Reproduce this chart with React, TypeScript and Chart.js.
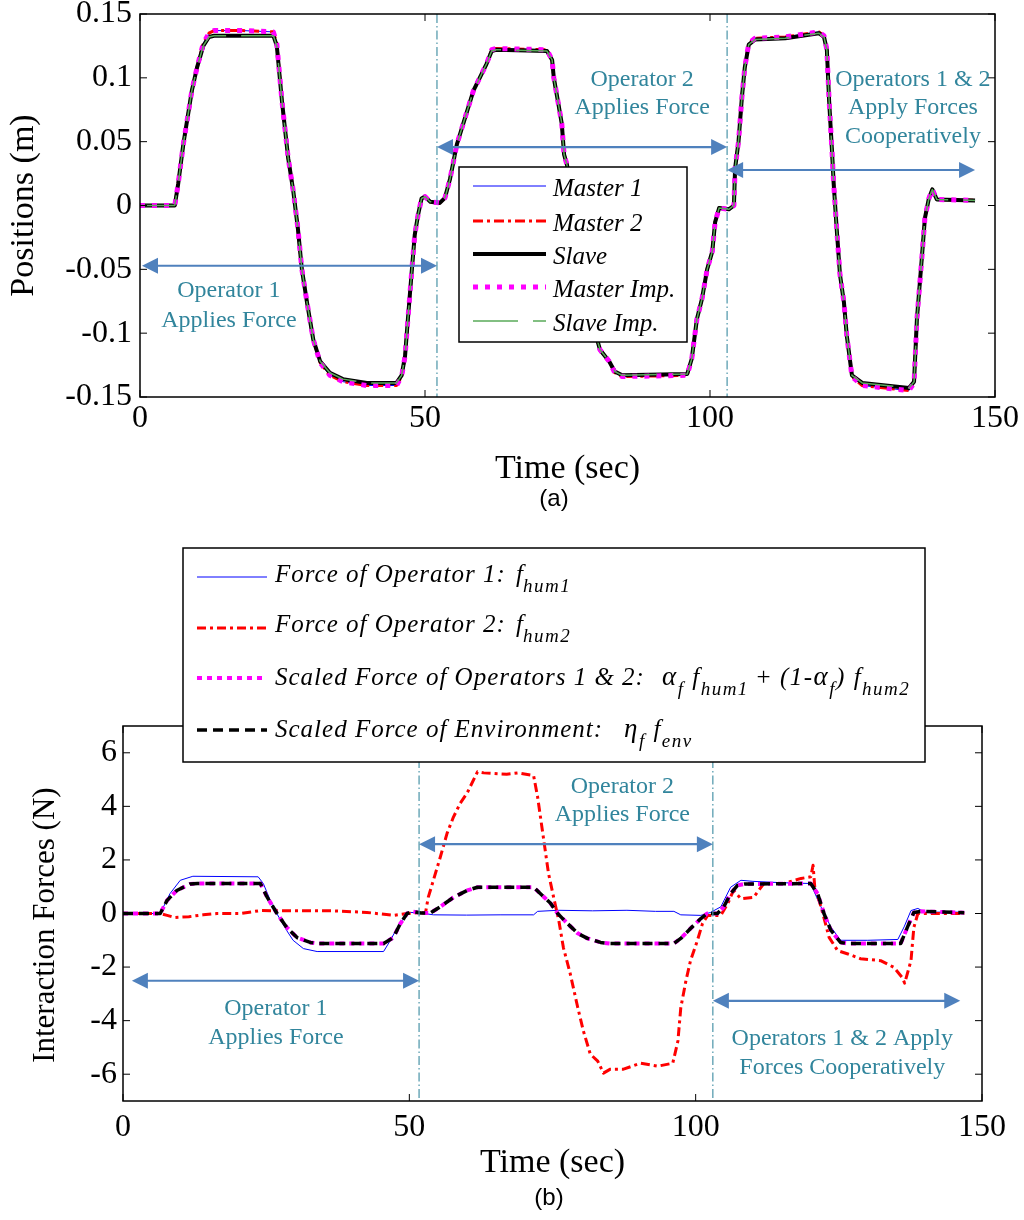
import React, { useEffect, useRef } from 'react';
import { Chart, registerables } from 'chart.js';

Chart.register(...registerables);

const SERIF = '"Liberation Serif", "Times New Roman", Times, serif';
const SANS = '"Liberation Sans", Arial, sans-serif';
const TEAL = '#31859C';
const ARROW = '#4F81BD';
const PHASE = '#4A94A8';

// ---------------- (a) Positions ----------------
const posTime = [0, 6.1, 6.7, 7.6, 9.1, 10, 11.1, 12.1, 13, 18, 23.4, 24, 24.9, 26, 26.9, 27.7, 28.4, 29.3, 30.4, 31.6, 33.3, 35.6, 39.8, 45, 45.9, 46.5, 47, 47.7, 48.2, 48.8, 49.4, 50, 50.9, 52.6, 53.5, 54.4, 55.6, 56.7, 58.5, 59.6, 60.8, 61.7, 62.5, 71.4, 72.3, 72.6, 73.5, 74, 74.4, 74.9, 76, 77.5, 79, 80.2, 80.7, 82.3, 83.3, 84.6, 96, 96.8, 97.7, 98.6, 99.5, 100.4, 100.9, 101.6, 103.3, 104.2, 104.4, 105, 105.6, 106.1, 106.8, 107.9, 113.2, 119.1, 120, 120.5, 120.9, 121.4, 121.7, 122.3, 122.8, 123.5, 124, 124.9, 126.7, 134.9, 135.8, 136.3, 137.2, 137.7, 138.4, 139, 139.8, 146.5];
const posMaster = [0, 0, 0.017, 0.048, 0.09, 0.108, 0.127, 0.135, 0.137, 0.137, 0.136, 0.127, 0.082, 0.037, 0.011, -0.018, -0.05, -0.076, -0.105, -0.123, -0.133, -0.138, -0.141, -0.141, -0.134, -0.118, -0.089, -0.05, -0.023, -0.007, 0.0055, 0.007, 0.003, 0.002, 0.006, 0.021, 0.048, 0.064, 0.09, 0.1, 0.111, 0.122, 0.123, 0.122, 0.114, 0.1, 0.077, 0.064, 0.04, 0.032, 0.005, -0.04, -0.08, -0.105, -0.113, -0.122, -0.131, -0.134, -0.133, -0.12, -0.089, -0.073, -0.05, -0.036, -0.013, -0.002, -0.003, 0, 0.029, 0.05, 0.085, 0.108, 0.127, 0.131, 0.132, 0.136, 0.133, 0.122, 0.082, 0.043, 0.017, -0.023, -0.054, -0.076, -0.102, -0.134, -0.141, -0.145, -0.139, -0.089, -0.039, -0.01, 0.0055, 0.0126, 0.0047, 0.004];
const posSlave = [0, 0, 0.017, 0.048, 0.09, 0.108, 0.125, 0.132, 0.133, 0.133, 0.133, 0.125, 0.082, 0.037, 0.011, -0.018, -0.05, -0.076, -0.105, -0.122, -0.131, -0.136, -0.139, -0.139, -0.133, -0.118, -0.089, -0.05, -0.023, -0.007, 0.0055, 0.007, 0.003, 0.002, 0.006, 0.021, 0.048, 0.064, 0.09, 0.1, 0.111, 0.121, 0.122, 0.121, 0.114, 0.1, 0.077, 0.064, 0.04, 0.032, 0.005, -0.04, -0.08, -0.105, -0.113, -0.122, -0.13, -0.133, -0.132, -0.12, -0.089, -0.073, -0.05, -0.036, -0.013, -0.002, -0.003, 0, 0.029, 0.05, 0.085, 0.108, 0.126, 0.13, 0.131, 0.135, 0.132, 0.122, 0.082, 0.043, 0.017, -0.023, -0.054, -0.076, -0.102, -0.133, -0.139, -0.143, -0.138, -0.089, -0.039, -0.01, 0.0055, 0.0126, 0.0047, 0.004];
const posXTickValues = [0, 50, 100, 150];
const posXTickLabels = ['0', '50', '100', '150'];
const posYTickValues = [-0.15, -0.1, -0.05, 0, 0.05, 0.1, 0.15];
const posYTickLabels = ['-0.15', '-0.1', '-0.05', '0', '0.05', '0.1', '0.15'];
const posSeriesNames = ['Master 1', 'Master 2', 'Slave', 'Master Imp.', 'Slave Imp.'];
const posPhaseBounds = [52.1, 103];

// ---------------- (b) Interaction forces ----------------
const hum1Time = [0, 6.5, 8.2, 10, 12.2, 23.6, 24.5, 26.2, 28.6, 29.7, 31.5, 33.9, 45.5, 46.7, 48.4, 50.2, 52, 54.2, 60, 66, 71.7, 72.4, 76, 82, 88, 93, 96.2, 97.4, 100.9, 102.6, 104.4, 106.1, 107.9, 110, 115, 120, 120.6, 121.9, 123.6, 125.3, 130, 135.3, 136.4, 137.6, 138.8, 140, 146.9];
const hum1Force = [0, 0, 0.74, 1.24, 1.39, 1.37, 1.12, 0.24, -0.64, -1.0, -1.31, -1.42, -1.42, -1.0, -0.33, 0.04, 0.02, -0.05, -0.06, -0.05, -0.05, 0.08, 0.12, 0.1, 0.12, 0.08, 0.08, -0.05, -0.07, 0.04, 0.25, 0.98, 1.24, 1.2, 1.15, 1.12, 0.86, 0.24, -0.5, -1.0, -1.0, -0.97, -0.5, 0.11, 0.19, 0.05, 0.05];
const hum2Time = [0, 6.5, 7.7, 9, 11.5, 14, 16.4, 20.5, 24, 30, 36.7, 42.6, 47.2, 49.6, 51.9, 52.8, 53.3, 54.2, 55.4, 56.6, 57.7, 58.9, 60.1, 61.9, 63, 67, 69, 71.7, 72.4, 73.4, 74.3, 75.2, 76.1, 76.9, 78.1, 79.4, 80.4, 81.6, 82.9, 83.9, 85.1, 87.4, 90.4, 93.4, 96, 96.9, 97.4, 98.3, 99.1, 100.3, 101.2, 102.1, 104.4, 105.6, 106.6, 107.9, 110.1, 111.9, 115.4, 118.4, 120.1, 120.5, 120.8, 121.9, 123.3, 124.8, 126.6, 128.8, 132.3, 134.6, 136.1, 136.5, 137.1, 137.6, 138.1, 138.8, 146.9];
const hum2Force = [0, 0, -0.07, -0.15, -0.12, -0.05, 0, 0, 0.11, 0.1, 0.1, 0.04, -0.07, 0, 0.04, 0, 0.6, 1.24, 2.1, 3.0, 3.6, 4.12, 4.5, 5.29, 5.25, 5.2, 5.25, 5.15, 4.35, 2.85, 1.5, 0.6, -0.26, -1.27, -2.25, -3.5, -4.39, -5.25, -5.51, -5.96, -5.81, -5.81, -5.59, -5.7, -5.59, -4.76, -3.52, -2.51, -1.76, -1.01, -0.37, -0.07, -0.07, 0.37, 0.86, 0.55, 0.6, 1.12, 1.12, 1.31, 1.37, 1.8, 0.98, 0.24, -0.89, -1.39, -1.51, -1.69, -1.76, -2.01, -2.4, -2.6, -2.14, -1.76, -0.52, 0, 0];
const coopTime = [0, 6.5, 7.7, 9.4, 11.7, 13, 24, 25.2, 26.9, 28.6, 30.4, 32.7, 34, 45.5, 47.2, 48.4, 49.6, 50.7, 52, 53.7, 55.4, 57.7, 60.1, 61.9, 71.7, 72.9, 74.7, 75.9, 77.6, 79.4, 81.1, 83.4, 85, 96.2, 97.4, 99.1, 100.9, 102, 103.8, 104.9, 106.1, 107.3, 108.5, 120.1, 121.3, 122.4, 123.6, 125.3, 126.5, 135.8, 137, 138.1, 139.3, 146.9];
const coopForce = [0, 0, 0.49, 0.86, 1.1, 1.12, 1.12, 0.6, 0, -0.52, -0.9, -1.08, -1.12, -1.12, -0.9, -0.39, 0, 0.07, 0.02, 0.02, 0.25, 0.6, 0.86, 0.98, 0.98, 0.74, 0.37, 0, -0.37, -0.74, -0.93, -1.08, -1.12, -1.12, -0.93, -0.56, -0.19, 0, 0, 0.25, 0.74, 1.05, 1.1, 1.12, 0.74, 0, -0.62, -1.08, -1.12, -1.12, -0.5, 0.04, 0.08, 0.03];
const forceXTickValues = [0, 50, 100, 150];
const forceXTickLabels = ['0', '50', '100', '150'];
const forceYTickValues = [-6, -4, -2, 0, 2, 4, 6];
const forceYTickLabels = ['-6', '-4', '-2', '0', '2', '4', '6'];
const forcePhaseBounds = [51.7, 103];

// ---------------- helpers ----------------
const pts = (t: number[], v: number[]) => t.map((x, i) => ({ x, y: v[i] }));

type Seg = { t: string; size?: number; dy?: number; upright?: boolean; ls?: number; x?: number };

function drawRich(ctx: CanvasRenderingContext2D, x: number, y: number, segs: Seg[]) {
  let cx = x;
  ctx.textAlign = 'left';
  ctx.textBaseline = 'alphabetic';
  for (const s of segs) {
    const size = s.size ?? 25;
    if (s.x !== undefined) cx = s.x;
    ctx.font = `${s.upright ? '' : 'italic '}${size}px ${SERIF}`;
    (ctx as any).letterSpacing = `${s.ls ?? 0}px`;
    ctx.fillText(s.t, cx, y + (s.dy ?? 0));
    cx += ctx.measureText(s.t).width;
  }
  (ctx as any).letterSpacing = '0px';
}

function strokeLine(ctx: CanvasRenderingContext2D, x1: number, y1: number, x2: number, y2: number) {
  ctx.beginPath();
  ctx.moveTo(x1, y1);
  ctx.lineTo(x2, y2);
  ctx.stroke();
}

function drawDoubleArrow(ctx: CanvasRenderingContext2D, x1: number, x2: number, y: number) {
  const hl = 16;
  const hw = 8;
  ctx.save();
  ctx.setLineDash([]);
  ctx.strokeStyle = ARROW;
  ctx.fillStyle = ARROW;
  ctx.lineWidth = 2.2;
  strokeLine(ctx, x1 + hl - 2, y, x2 - hl + 2, y);
  ctx.beginPath();
  ctx.moveTo(x1, y);
  ctx.lineTo(x1 + hl, y - hw);
  ctx.lineTo(x1 + hl, y + hw);
  ctx.closePath();
  ctx.fill();
  ctx.beginPath();
  ctx.moveTo(x2, y);
  ctx.lineTo(x2 - hl, y - hw);
  ctx.lineTo(x2 - hl, y + hw);
  ctx.closePath();
  ctx.fill();
  ctx.restore();
}

function drawLegendSample(ctx: CanvasRenderingContext2D, ds: any, x1: number, x2: number, y: number) {
  ctx.save();
  ctx.strokeStyle = ds.borderColor;
  ctx.lineWidth = ds.borderWidth;
  ctx.setLineDash(ds.borderDash || []);
  ctx.lineCap = 'butt';
  strokeLine(ctx, x1, y, x2, y);
  ctx.restore();
}

type Ann = {
  phases: number[];
  xTicks: number[];
  yTicks: number[];
  arrows: { x1: number; x2: number; y: number }[];
  texts: { x: number; y: number; s: string }[];
  legend: (chart: any) => void;
  caption: { s: string; x: number; y: number };
};

function framePlugin(ann: Ann) {
  return {
    id: 'frame',
    afterDatasetsDraw(chart: any) {
      const { ctx, chartArea: a, scales } = chart;
      const xs = scales.x;
      const ys = scales.y;
      ctx.save();
      ctx.strokeStyle = PHASE;
      ctx.lineWidth = 1.2;
      ctx.setLineDash([9, 3, 1.5, 3]);
      for (const t of ann.phases) {
        const px = xs.getPixelForValue(t);
        strokeLine(ctx, px, a.top, px, a.bottom);
      }
      ctx.setLineDash([]);
      ctx.strokeStyle = '#000';
      ctx.lineWidth = 1.5;
      ctx.strokeRect(a.left, a.top, a.right - a.left, a.bottom - a.top);
      ctx.lineWidth = 1;
      for (const v of ann.xTicks) {
        const px = xs.getPixelForValue(v);
        strokeLine(ctx, px, a.bottom, px, a.bottom - 7);
        strokeLine(ctx, px, a.top, px, a.top + 7);
      }
      for (const v of ann.yTicks) {
        const py = ys.getPixelForValue(v);
        strokeLine(ctx, a.left, py, a.left + 7, py);
        strokeLine(ctx, a.right, py, a.right - 7, py);
      }
      for (const ar of ann.arrows) {
        drawDoubleArrow(ctx, xs.getPixelForValue(ar.x1), xs.getPixelForValue(ar.x2), ys.getPixelForValue(ar.y));
      }
      ctx.fillStyle = TEAL;
      ctx.font = `24px ${SERIF}`;
      ctx.textAlign = 'center';
      ctx.textBaseline = 'middle';
      for (const t of ann.texts) {
        ctx.fillText(t.s, xs.getPixelForValue(t.x), ys.getPixelForValue(t.y));
      }
      ann.legend(chart);
      ctx.restore();
    },
    afterDraw(chart: any) {
      const { ctx } = chart;
      ctx.save();
      ctx.fillStyle = '#000';
      ctx.font = `24px ${SANS}`;
      ctx.textAlign = 'center';
      ctx.textBaseline = 'middle';
      ctx.fillText(ann.caption.s, ann.caption.x, ann.caption.y);
      ctx.restore();
    },
  };
}

function makeX(values: number[], labels: string[], height: number, tickPad: number, titlePadBottom: number) {
  return {
    type: 'linear',
    position: 'bottom',
    min: 0,
    max: 150,
    afterBuildTicks: (s: any) => {
      s.ticks = values.map((v) => ({ value: v }));
    },
    afterFit: (s: any) => {
      s.height = height;
      s.paddingLeft = 0;
      s.paddingRight = 0;
    },
    grid: { display: false, drawTicks: false },
    border: { display: false },
    ticks: {
      autoSkip: false,
      maxRotation: 0,
      padding: tickPad,
      color: '#000',
      font: { family: SERIF, size: 32, lineHeight: 0.9 },
      callback: (v: number) => labels[values.indexOf(v)] ?? '',
    },
    title: {
      display: true,
      text: 'Time (sec)',
      color: '#000',
      font: { family: SERIF, size: 34, lineHeight: 1.2 },
      padding: { top: 0, bottom: titlePadBottom },
    },
  };
}

function makeY(min: number, max: number, values: number[], labels: string[], width: number, tickPad: number, title: string, titleSize: number, titlePadTop: number) {
  return {
    type: 'linear',
    position: 'left',
    min,
    max,
    afterBuildTicks: (s: any) => {
      s.ticks = values.map((v) => ({ value: v }));
    },
    afterFit: (s: any) => {
      s.width = width;
      s.paddingTop = 0;
      s.paddingBottom = 0;
    },
    grid: { display: false, drawTicks: false },
    border: { display: false },
    ticks: {
      autoSkip: false,
      padding: tickPad,
      color: '#000',
      font: { family: SERIF, size: 32, lineHeight: 0.9 },
      callback: (v: number) => labels[values.indexOf(v)] ?? '',
    },
    title: {
      display: true,
      text: title,
      color: '#000',
      font: { family: SERIF, size: titleSize, lineHeight: 1.2 },
      padding: { top: titlePadTop, bottom: 0 },
    },
  };
}

function lineDs(label: string, data: any[], color: string, width: number, dash: number[], order: number) {
  return {
    label,
    data,
    borderColor: color,
    backgroundColor: color,
    borderWidth: width,
    borderDash: dash,
    borderCapStyle: 'butt',
    borderJoinStyle: 'round',
    pointRadius: 0,
    fill: false,
    tension: 0,
    order,
  };
}

function topConfig(): any {
  const master = pts(posTime, posMaster);
  const slave = pts(posTime, posSlave);
  const datasets = [
    lineDs(posSeriesNames[0], master, '#0000FF', 1, [], 4),
    lineDs(posSeriesNames[1], master, '#FF0000', 3, [10, 4, 3, 4], 3),
    lineDs(posSeriesNames[2], slave, '#000000', 4, [], 2),
    lineDs(posSeriesNames[3], master, '#FF00FF', 5, [5, 7], 1),
    lineDs(posSeriesNames[4], slave, '#5AAA5A', 1.5, [45, 15], 0),
  ];
  const ann: Ann = {
    phases: posPhaseBounds,
    xTicks: posXTickValues,
    yTicks: posYTickValues,
    arrows: [
      { x1: 0.35, x2: posPhaseBounds[0], y: -0.0472 },
      { x1: posPhaseBounds[0], x2: posPhaseBounds[1], y: 0.0458 },
      { x1: posPhaseBounds[1], x2: 146.5, y: 0.0278 },
    ],
    texts: [
      { x: 15.6, y: -0.067, s: 'Operator 1' },
      { x: 15.6, y: -0.0905, s: 'Applies Force' },
      { x: 88.1, y: 0.0983, s: 'Operator 2' },
      { x: 88.1, y: 0.0764, s: 'Applies Force' },
      { x: 135.6, y: 0.0983, s: 'Operators 1 & 2' },
      { x: 135.6, y: 0.0764, s: 'Apply Forces' },
      { x: 135.6, y: 0.0542, s: 'Cooperatively' },
    ],
    legend: (chart: any) => {
      const ctx = chart.ctx as CanvasRenderingContext2D;
      ctx.save();
      ctx.fillStyle = '#fff';
      ctx.fillRect(459, 167, 228, 175);
      ctx.strokeStyle = '#000';
      ctx.lineWidth = 1.5;
      ctx.setLineDash([]);
      ctx.strokeRect(459, 167, 228, 175);
      const rows = [186, 221, 254, 287, 321];
      chart.data.datasets.forEach((ds: any, i: number) => {
        drawLegendSample(ctx, ds, 473, 546, rows[i]);
        ctx.fillStyle = '#000';
        ctx.font = `italic 25px ${SERIF}`;
        ctx.textAlign = 'left';
        ctx.textBaseline = 'alphabetic';
        ctx.fillText(posSeriesNames[i], 553, rows[i] + 10);
      });
      ctx.restore();
    },
    caption: { s: '(a)', x: 554, y: 499 },
  };
  return {
    type: 'line',
    data: { datasets },
    options: {
      responsive: false,
      animation: false,
      devicePixelRatio: 1,
      layout: { padding: { left: 0, right: 29, top: 14, bottom: 30 } },
      plugins: { legend: { display: false }, tooltip: { enabled: false } },
      scales: {
        x: makeX(posXTickValues, posXTickLabels, 93, 7, 1),
        y: makeY(-0.15, 0.15, posYTickValues, posYTickLabels, 140, 8, 'Positions (m)', 34, 4),
      },
    },
    plugins: [framePlugin(ann)],
  };
}

function bottomConfig(): any {
  const names = ['hum1', 'hum2', 'coop', 'env'];
  const datasets = [
    lineDs(names[0], pts(hum1Time, hum1Force), '#0000FF', 1, [], 3),
    lineDs(names[1], pts(hum2Time, hum2Force), '#FF0000', 3, [9, 4, 3, 4], 2),
    lineDs(names[2], pts(coopTime, coopForce), '#FF00FF', 4, [5, 5], 1),
    lineDs(names[3], pts(coopTime, coopForce), '#000000', 3.5, [10, 6], 0),
  ];
  const L = 1.5;
  const sub = (t: string): Seg => ({ t, size: 19, dy: 10, ls: L });
  const legendRows: Seg[][] = [
    [{ t: 'Force of Operator 1:', ls: 1 }, { t: 'f', x: 516 }, sub('hum1')],
    [{ t: 'Force of Operator 2:', ls: 1 }, { t: 'f', x: 516 }, sub('hum2')],
    [
      { t: 'Scaled Force of Operators 1 & 2:', ls: 1 },
      { t: 'α', size: 27, x: 662, ls: L },
      sub('f'),
      { t: ' f', ls: L },
      sub('hum1'),
      { t: ' + ', upright: true, ls: L },
      { t: '(1-', ls: L },
      { t: 'α', size: 27, ls: L },
      sub('f'),
      { t: ')', ls: L },
      { t: ' f', ls: L },
      sub('hum2'),
    ],
    [{ t: 'Scaled Force of Environment:', ls: 1 }, { t: 'η', size: 27, x: 624, ls: L }, sub('f'), { t: ' f', ls: L }, sub('env')],
  ];
  const ann: Ann = {
    phases: forcePhaseBounds,
    xTicks: forceXTickValues,
    yTicks: forceYTickValues,
    arrows: [
      { x1: 1.55, x2: forcePhaseBounds[0], y: -2.51 },
      { x1: forcePhaseBounds[0], x2: forcePhaseBounds[1], y: 2.59 },
      { x1: forcePhaseBounds[1], x2: 146.2, y: -3.26 },
    ],
    texts: [
      { x: 26.7, y: -3.56, s: 'Operator 1' },
      { x: 26.7, y: -4.62, s: 'Applies Force' },
      { x: 87.2, y: 4.75, s: 'Operator 2' },
      { x: 87.2, y: 3.69, s: 'Applies Force' },
      { x: 125.6, y: -4.69, s: 'Operators 1 & 2 Apply' },
      { x: 125.6, y: -5.75, s: 'Forces Cooperatively' },
    ],
    legend: (chart: any) => {
      const ctx = chart.ctx as CanvasRenderingContext2D;
      ctx.save();
      ctx.fillStyle = '#fff';
      ctx.fillRect(183, 28, 742, 214);
      ctx.strokeStyle = '#000';
      ctx.lineWidth = 1.5;
      ctx.setLineDash([]);
      ctx.strokeRect(183, 28, 742, 214);
      const lineY = [57, 108, 158, 210];
      const baseY = [62, 112, 165, 217];
      chart.data.datasets.forEach((ds: any, i: number) => {
        drawLegendSample(ctx, ds, 197, 267, lineY[i]);
        ctx.fillStyle = '#000';
        drawRich(ctx, 275, baseY[i], legendRows[i]);
      });
      ctx.restore();
    },
    caption: { s: '(b)', x: 549, y: 678 },
  };
  return {
    type: 'line',
    data: { datasets },
    options: {
      responsive: false,
      animation: false,
      devicePixelRatio: 1,
      layout: { padding: { left: 0, right: 42, top: 206, bottom: 35 } },
      plugins: { legend: { display: false }, tooltip: { enabled: false } },
      scales: {
        x: makeX(forceXTickValues, forceXTickLabels, 84, 12, 2),
        y: makeY(-7, 7, forceYTickValues, forceYTickLabels, 123, 6, 'Interaction Forces (N)   ', 31, 27),
      },
    },
    plugins: [framePlugin(ann)],
  };
}

export default function App() {
  const topRef = useRef<HTMLCanvasElement>(null);
  const botRef = useRef<HTMLCanvasElement>(null);
  useEffect(() => {
    const c1 = new Chart(topRef.current as HTMLCanvasElement, topConfig());
    const c2 = new Chart(botRef.current as HTMLCanvasElement, bottomConfig());
    return () => {
      c1.destroy();
      c2.destroy();
    };
  }, []);
  return (
    <div style={{ position: 'absolute', left: 0, top: 0, width: 1024, height: 1220, background: '#fff' }}>
      <canvas ref={topRef} width={1024} height={520} style={{ position: 'absolute', left: 0, top: 0, width: 1024, height: 520 }} />
      <canvas ref={botRef} width={1024} height={700} style={{ position: 'absolute', left: 0, top: 520, width: 1024, height: 700 }} />
    </div>
  );
}
